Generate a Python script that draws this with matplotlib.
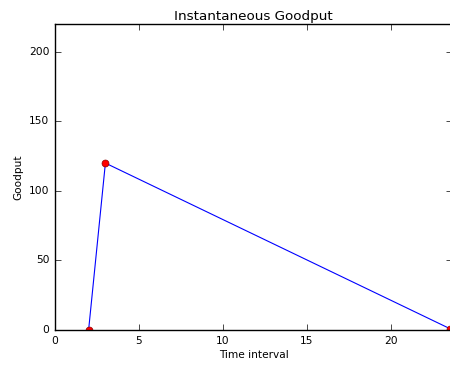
import matplotlib
matplotlib.use("Agg")
import matplotlib.pyplot as plt

plt.style.use("classic")
plt.rcParams["font.size"] = 7.5

time_interval = [2, 3, 23.5]
goodput = [0, 120, 1]

fig = plt.figure(figsize=(4.5, 3.65), dpi=100, facecolor="white")
ax = fig.add_axes([55 / 450, 35 / 365, 397 / 450, 306 / 365])
ax.plot(time_interval, goodput, color="blue", linewidth=0.8,
        marker="o", markersize=5, markerfacecolor="red", markeredgecolor="#8b0000",
        markeredgewidth=0.5)
ax.set_xlim(0, 397 / 16.8)
ax.set_ylim(0, 220)
ax.set_xticks([0, 5, 10, 15, 20])
ax.set_yticks([0, 50, 100, 150, 200])
ax.tick_params(labelsize=7.7, pad=4)
ax.set_title("Instantaneous Goodput", fontsize=9.7, pad=3)
ax.set_xlabel("Time interval", fontsize=7.6, labelpad=3)
ax.set_ylabel("Goodput", fontsize=7.6, labelpad=4)
fig.savefig("out.png", dpi=100, facecolor="white")
